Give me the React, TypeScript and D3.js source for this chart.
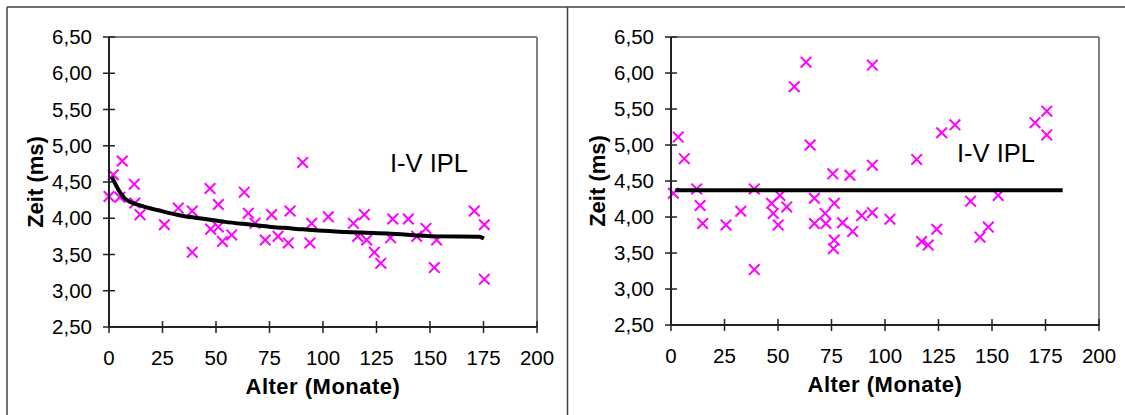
import React from "react";
import * as d3 from "d3";

// ---------- data ----------
const yTickValues = [2.5, 3.0, 3.5, 4.0, 4.5, 5.0, 5.5, 6.0, 6.5];
const xTickValues = [0, 25, 50, 75, 100, 125, 150, 175, 200];

const leftAges = [0, 2, 5.1, 6.2, 11.8, 12.1, 14.5, 25.9, 32.4, 38.9, 38.9, 47.2, 47.5, 51.1, 51.1, 53, 57.3, 63.2, 65.1, 68.2, 73, 76, 79, 83.8, 84.6, 90.5, 94.7, 93.9, 102.5, 114.2, 119.3, 116.2, 120.4, 124, 127, 132.6, 131.6, 139.9, 143.8, 148.1, 153.1, 152, 170.7, 175.4, 175.4];
const leftTimes = [4.3, 4.6, 4.29, 4.79, 4.47, 4.21, 4.05, 3.91, 4.14, 4.1, 3.53, 4.41, 3.85, 4.19, 3.88, 3.68, 3.77, 4.36, 4.07, 3.93, 3.7, 4.05, 3.75, 3.66, 4.1, 4.77, 3.93, 3.66, 4.02, 3.93, 4.05, 3.75, 3.7, 3.53, 3.38, 3.99, 3.73, 3.99, 3.75, 3.86, 3.7, 3.32, 4.1, 3.91, 3.16];

const leftTrendAges = [1.3, 5.1, 7.5, 15.3, 23, 34.7, 44.9, 54.2, 66.7, 76, 85.4, 97.8, 111, 130, 153, 173, 175.2];
const leftTrendTimes = [4.57, 4.36, 4.27, 4.17, 4.11, 4.03, 3.99, 3.95, 3.91, 3.88, 3.86, 3.83, 3.81, 3.79, 3.75, 3.745, 3.72];

const rightAges = [1.1, 3.4, 6.2, 12, 13.6, 14.8, 25.7, 32.6, 38.9, 38.9, 47, 47.8, 50.9, 50.1, 54.1, 57.6, 63.1, 65, 67, 67, 72, 72.4, 75.6, 76.3, 76.3, 75.9, 80.2, 83.6, 84.9, 89.1, 94.1, 94.1, 94.1, 102.3, 114.8, 117.1, 120.2, 124.2, 126.5, 132.7, 140, 144.4, 148.3, 152.9, 170.1, 175.6, 175.6];
const rightTimes = [4.33, 5.11, 4.81, 4.39, 4.16, 3.91, 3.89, 4.08, 4.39, 3.27, 4.19, 4.05, 4.3, 3.89, 4.14, 5.81, 6.15, 5.0, 4.26, 3.91, 4.05, 3.91, 4.6, 4.19, 3.68, 3.56, 3.92, 4.58, 3.8, 4.02, 6.11, 4.72, 4.06, 3.97, 4.8, 3.66, 3.61, 3.83, 5.17, 5.28, 4.22, 3.72, 3.86, 4.3, 5.31, 5.47, 5.14];

const rightTrendAges = [2, 183];
const rightTrendTimes = [4.37, 4.37];

const seriesLabel = "I-V IPL";
const xTitle = "Alter (Monate)";
const yTitle = "Zeit (ms)";

const FONT = "'Liberation Sans', Arial, sans-serif";
const fmt = (v: number) => v.toFixed(2).replace(".", ",");

type PanelProps = {
  left: number;
  top: number;
  right: number;
  bottom: number;
  ages: number[];
  times: number[];
  trendAges: number[];
  trendTimes: number[];
  labelX: number;
  labelY: number;
};

function Panel(p: PanelProps) {
  const x = d3.scaleLinear().domain([0, 200]).range([p.left, p.right]);
  const y = d3.scaleLinear().domain([2.5, 6.5]).range([p.bottom, p.top]);
  const trend = p.trendAges.map((a, i) => [a, p.trendTimes[i]] as [number, number]);
  const line = d3
    .line<[number, number]>()
    .x((d) => x(d[0]))
    .y((d) => y(d[1]))
    .curve(d3.curveMonotoneX);
  const pts = p.ages.map((a, i) => [a, p.times[i]] as [number, number]);
  const s = 5.3;
  return (
    <g>
      {/* frame top & right */}
      <line x1={p.left} y1={p.top} x2={p.right} y2={p.top} stroke="#808080" strokeWidth={2} />
      <line x1={p.right} y1={p.top} x2={p.right} y2={p.bottom} stroke="#808080" strokeWidth={2} />
      {/* markers */}
      {pts.map((d, i) => (
        <path
          key={i}
          d={`M${x(d[0]) - s},${y(d[1]) - s}L${x(d[0]) + s},${y(d[1]) + s}M${x(d[0]) - s},${y(d[1]) + s}L${x(d[0]) + s},${y(d[1]) - s}`}
          stroke="#FF00FF"
          strokeWidth={2}
          fill="none"
        />
      ))}
      {/* trend */}
      <path d={line(trend) || ""} stroke="#000" strokeWidth={4} fill="none" />
      {/* axes */}
      <line x1={p.left} y1={p.top} x2={p.left} y2={p.bottom} stroke="#222" strokeWidth={2} />
      <line x1={p.left} y1={p.bottom} x2={p.right} y2={p.bottom} stroke="#222" strokeWidth={2} />
      {yTickValues.map((v) => (
        <g key={"y" + v}>
          <line x1={p.left - 6} x2={p.left + 6} y1={y(v)} y2={y(v)} stroke="#222" strokeWidth={1.5} />
          <text
            x={p.left - 17}
            y={y(v)}
            dy="0.35em"
            textAnchor="end"
            fontFamily={FONT}
            fontSize={20.5}
            fill="#000"
          >
            {fmt(v)}
          </text>
        </g>
      ))}
      {xTickValues.map((v) => (
        <g key={"x" + v}>
          <line x1={x(v)} x2={x(v)} y1={p.bottom - 6} y2={p.bottom + 6} stroke="#222" strokeWidth={1.5} />
          <text x={x(v)} y={p.bottom + 38} textAnchor="middle" fontFamily={FONT} fontSize={20.5} fill="#000">
            {v}
          </text>
        </g>
      ))}
      <text
        x={(p.left + p.right) / 2}
        y={p.bottom + 67}
        textAnchor="middle"
        fontFamily={FONT}
        fontSize={22}
        fontWeight="bold"
        letterSpacing={0.5}
        fill="#000"
      >
        {xTitle}
      </text>
      <text
        transform={`translate(${p.left - 66},${(p.top + p.bottom) / 2}) rotate(-90)`}
        textAnchor="middle"
        fontFamily={FONT}
        fontSize={22}
        fontWeight="bold"
        fill="#000"
      >
        {yTitle}
      </text>
      <text x={p.labelX} y={p.labelY} fontFamily={FONT} fontSize={25.5} fill="#000">
        {seriesLabel}
      </text>
    </g>
  );
}

export default function App() {
  return (
    <svg
      width={1125}
      height={415}
      style={{ position: "absolute", left: 0, top: 0, background: "#fff" }}
    >
      <rect x={0} y={0} width={1125} height={415} fill="#fff" />
      <line x1={7} y1={7} x2={1125} y2={7} stroke="#404040" strokeWidth={1.5} />
      <line x1={7} y1={7} x2={7} y2={415} stroke="#404040" strokeWidth={1.5} />
      <line x1={567.5} y1={7} x2={567.5} y2={415} stroke="#404040" strokeWidth={1.5} />
      <Panel
        left={109}
        top={37}
        right={537}
        bottom={327}
        ages={leftAges}
        times={leftTimes}
        trendAges={leftTrendAges}
        trendTimes={leftTrendTimes}
        labelX={390}
        labelY={172}
      />
      <Panel
        left={671}
        top={37}
        right={1099}
        bottom={325}
        ages={rightAges}
        times={rightTimes}
        trendAges={rightTrendAges}
        trendTimes={rightTrendTimes}
        labelX={957}
        labelY={162}
      />
    </svg>
  );
}
